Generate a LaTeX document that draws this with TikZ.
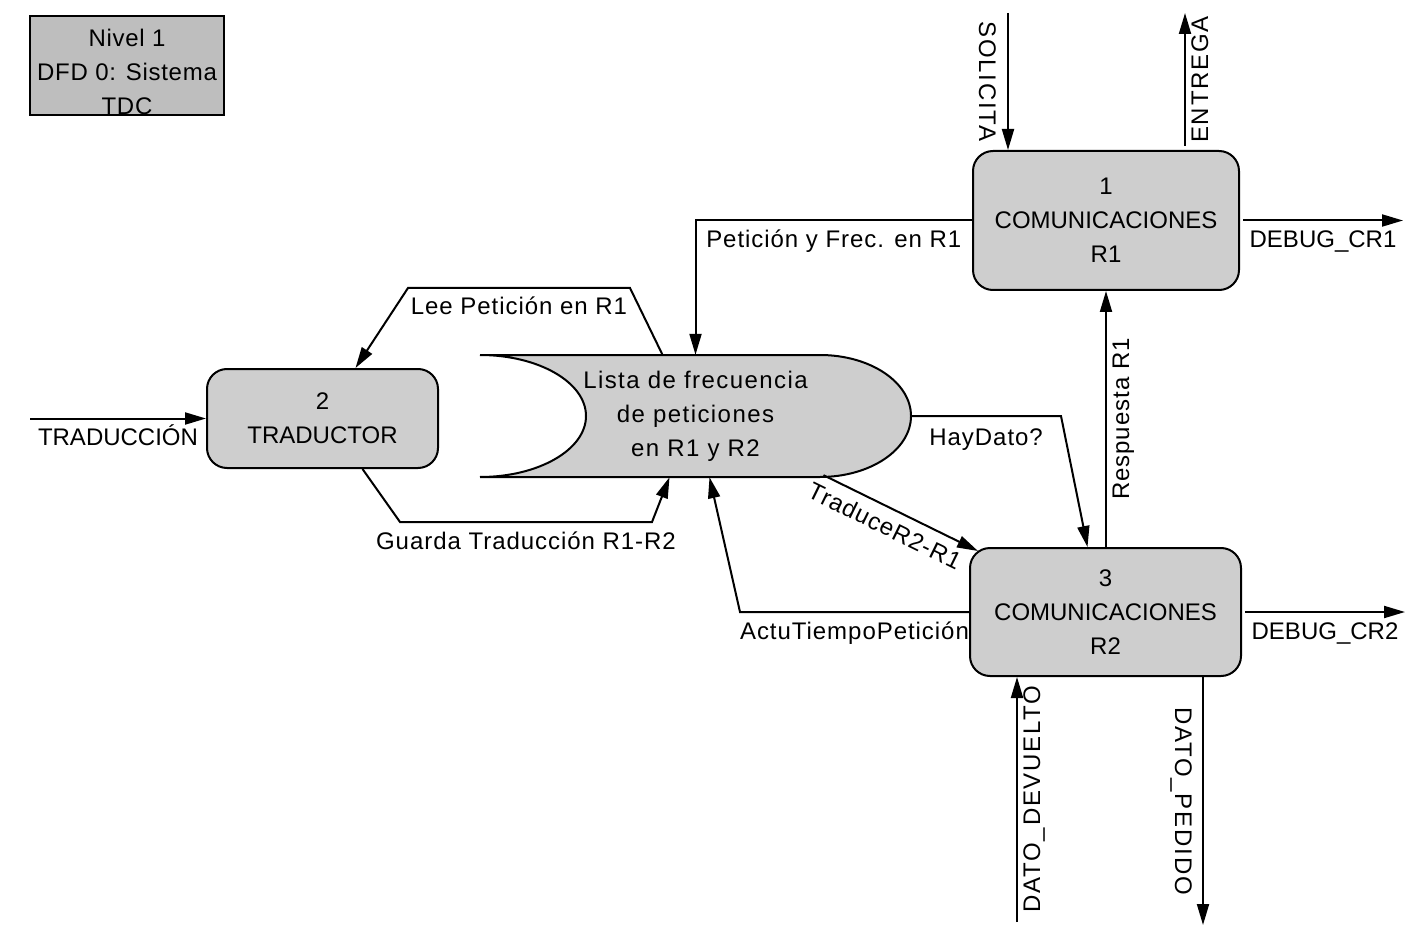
\documentclass[tikz,border=0pt]{standalone}
\usepackage{fontspec}
\setmainfont{Liberation Sans}
\usetikzlibrary{arrows.meta,backgrounds}
\definecolor{procfill}{RGB}{206,206,206}
\definecolor{titlefill}{RGB}{190,190,190}
\begin{document}
\begin{tikzpicture}[x=1pt,y=-1pt,
  font=\fontsize{24}{34}\selectfont,
  proc/.style={draw,line width=2pt,fill=procfill,rounded corners=20pt,inner sep=0pt,align=center},
  flow/.style={line width=2pt,-{Triangle[length=21pt,width=12pt]}},
  lbl/.style={inner xsep=0pt,inner ysep=9pt,anchor=north,text height=17pt,text depth=5pt},
  wide/.style={font=\fontsize{24}{34}\selectfont\addfontfeature{LetterSpace=4}},
  wider/.style={font=\fontsize{24}{34}\selectfont\addfontfeature{LetterSpace=7.5}},
]
\useasboundingbox (0,0) rectangle (1416,933);

% title
\node[draw,line width=2pt,fill=titlefill,minimum width=194pt,minimum height=99pt,inner sep=0pt] (title) at (127,65.5) {};
\node[align=center,inner sep=0pt,font=\fontsize{24}{34}\selectfont\addfontfeature{LetterSpace=3}] (titletext) at (127,71.5) {Nivel 1\\DFD 0: Sistema\\TDC};

% processes
\node[proc,minimum width=266pt,minimum height=139pt] (p1) at (1106,220.5) {1\\COMUNICACIONES\\R1};
\node[proc,minimum width=231pt,minimum height=99pt] (p2) at (322.5,418.5) {2\\TRADUCTOR};
\node[proc,minimum width=271pt,minimum height=128pt] (p3) at (1105.5,612) {3\\COMUNICACIONES\\R2};

% data store
\node[inner sep=0pt,minimum width=431pt,minimum height=122pt,align=center,font=\fontsize{24}{34}\selectfont\addfontfeature{LetterSpace=6}] (store) at (695.5,416) {Lista de frecuencia\\de peticiones\\en R1 y R2};
\begin{scope}[on background layer]
\draw[line width=2pt,fill=procfill] (480,355) -- (820,355)
  .. controls (870.3,355) and (911,382.3) .. (911,416)
  .. controls (911,449.7) and (870.3,477) .. (820,477) -- (480,477)
  .. controls (538.5,477) and (586,449.7) .. (586,416)
  .. controls (586,382.3) and (538.5,355) .. (480,355) -- cycle;
\end{scope}

% free ends
\coordinate (tin) at (30,418.5);
\coordinate (sol) at (1008,13);
\coordinate (ent) at (1185,13);
\coordinate (d1) at (1403,220.5);
\coordinate (d2) at (1405,612);
\coordinate (dev) at (1017,922);
\coordinate (ped) at (1203,925);

% connectors
\draw[flow] (tin) -- node[lbl]{TRADUCCIÓN} (p2.west);
\draw[flow] ([xshift=-33pt]store.north) -- (630,288) -- node[lbl,wide]{Lee Petición en R1} (408,288) -- ([xshift=33pt]p2.north);
\draw[flow] ([xshift=40pt]p2.south) -- (400,522) -- node[lbl,wide]{Guarda Traducción R1-R2} (652,522) -- ([xshift=-26pt]store.south);
\draw[flow] (p1.west) -- node[lbl,wide]{Petición y Frec. en R1} (p1.west -| store.north) -- (store.north);
\draw[flow] (store.east) -- node[lbl,wide,inner ysep=11pt]{HayDato?} (1061,416) -- ([xshift=-18pt]p3.north);
\draw[flow] (p3.north -| p1.south) -- node[lbl,wide,rotate=90,inner ysep=5pt]{Respuesta R1} (p1.south);
\draw[flow] ([xshift=128pt,yshift=2pt]store.south) -- node[lbl,wide,sloped,pos=0.45]{TraduceR2-R1} ([xshift=9pt,yshift=-4pt]p3.north west);
\draw[flow] (p3.west) -- node[lbl,wide]{ActuTiempoPetición} (740,612) -- ([xshift=14pt]store.south);
\draw[flow] ([xshift=3pt]p1.east) -- node[lbl]{DEBUG\_CR1} (d1);
\draw[flow] ([xshift=3pt]p3.east) -- node[lbl]{DEBUG\_CR2} (d2);
\draw[flow] (sol) -- node[lbl,wider,rotate=-90,inner ysep=11pt]{SOLICITA} ([xshift=-98pt]p1.north);
\draw[flow] ([xshift=79pt,yshift=4pt]p1.north) -- node[lbl,wider,rotate=90,inner ysep=5pt]{ENTREGA} (ent);
\draw[flow] (dev) -- node[lbl,wider,rotate=90,inner ysep=5pt]{DATO\_DEVUELTO} ([xshift=-88.5pt]p3.south);
\draw[flow] ([xshift=97.5pt]p3.south) -- node[lbl,wider,rotate=-90,inner ysep=10pt]{DATO\_PEDIDO} (ped);
\end{tikzpicture}
\end{document}
